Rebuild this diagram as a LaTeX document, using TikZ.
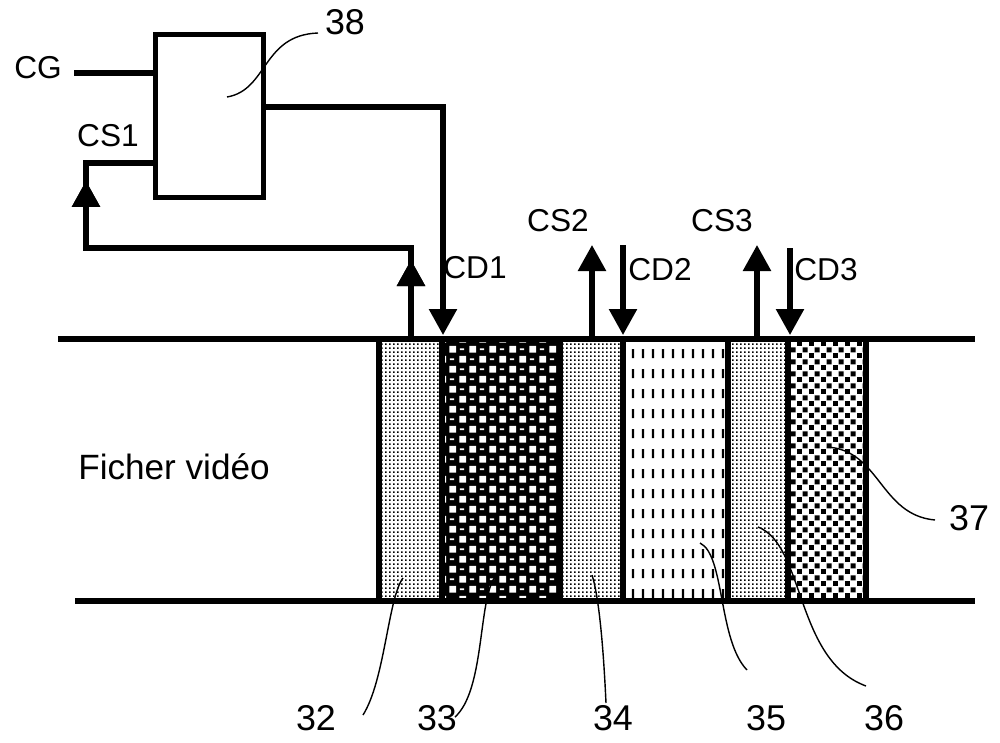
\documentclass[tikz,border=0pt]{standalone}
\usepackage{fontspec}
\setmainfont{Liberation Sans}
\usetikzlibrary{positioning,arrows.meta,calc,patterns,decorations.markings}

% fills of the stripes (1px of the drawing = 0.71pt)
\pgfdeclarepatternformonly{finedots}{\pgfpointorigin}{\pgfqpoint{2.8pt}{2.8pt}}{\pgfqpoint{2.8pt}{2.8pt}}{%
  \pgfpathrectangle{\pgfpointorigin}{\pgfqpoint{1.25pt}{1.25pt}}\pgfusepath{fill}}
\pgfdeclarepatternformonly{holes}{\pgfpointorigin}{\pgfqpoint{14.2pt}{14.2pt}}{\pgfqpoint{14.2pt}{14.2pt}}{%
  \pgfpathrectangle{\pgfqpoint{0.2pt}{0.2pt}}{\pgfqpoint{4.9pt}{4.9pt}}
  \pgfpathrectangle{\pgfqpoint{7.3pt}{7.3pt}}{\pgfqpoint{4.9pt}{4.9pt}}
  \pgfpathrectangle{\pgfqpoint{7.7pt}{2.0pt}}{\pgfqpoint{3.0pt}{1.3pt}}
  \pgfpathrectangle{\pgfqpoint{0.6pt}{9.1pt}}{\pgfqpoint{3.0pt}{1.3pt}}
  \pgfusepath{fill}}
\pgfdeclarepatternformonly{vdashes}{\pgfpointorigin}{\pgfqpoint{7.1pt}{14.2pt}}{\pgfqpoint{7.1pt}{14.2pt}}{%
  \pgfpathrectangle{\pgfqpoint{2.8pt}{3.5pt}}{\pgfqpoint{1.5pt}{6.4pt}}\pgfusepath{fill}}
\pgfdeclarepatternformonly{blocks}{\pgfpointorigin}{\pgfqpoint{8.6pt}{8.6pt}}{\pgfqpoint{8.6pt}{8.6pt}}{%
  \pgfpathrectangle{\pgfqpoint{0pt}{0pt}}{\pgfqpoint{3.8pt}{3.8pt}}
  \pgfpathrectangle{\pgfqpoint{4.3pt}{4.3pt}}{\pgfqpoint{3.8pt}{3.8pt}}
  \pgfusepath{fill}}

\tikzset{
  wire/.style={line width=3.6pt},
  leader/.style={line width=1pt},
  tip/.style={-{Triangle[length=6.5mm,width=6.8mm]}},
  lbl/.style={inner sep=0pt,font=\fontsize{22.5}{26}\selectfont},
  num/.style={inner sep=0pt,font=\fontsize{25.5}{30}\selectfont},
  midtip/.style={postaction={decorate},decoration={markings,
    mark=at position #1 with {\arrow{Triangle[length=6.5mm,width=6.8mm]}}}}
}

\begin{document}
\begin{tikzpicture}[x=0.25mm,y=-0.25mm]
  \useasboundingbox (0,0) rectangle (1000,742);

  % stripes of the video file
  \fill[pattern=finedots] (379,339) rectangle (442,601);
  \fill[black] (442,339) rectangle (560,601);
  \fill[pattern=holes,pattern color=white] (442,339) rectangle (560,601);
  \fill[pattern=finedots] (560,339) rectangle (623,601);
  \fill[pattern=vdashes] (623,339) rectangle (728,601);
  \fill[pattern=finedots] (728,339) rectangle (788,601);
  \fill[pattern=blocks] (788,339) rectangle (866,601);
  \foreach \xs in {379,442,560,623,728,788,866}
    \draw[wire] (\xs,339) -- (\xs,601);
  \draw[wire] (58,339) -- (975,339);
  \draw[wire] (75,601) -- (975,601);
  \node[lbl,font=\fontsize{25}{30}\selectfont] (film) at (174,467) {Ficher vidéo};

  % block 38 and its signals
  \node[wire,draw,minimum width=27mm,minimum height=40.75mm] (proc) at (209.5,116) {};
  \node[lbl] (cg) at (38,68) {CG};
  \node[lbl] (cs1) at (108,136) {CS1};
  \draw[wire] ([xshift=3mm]cg.east |- 0,73) -- (proc.west |- 0,73);
  \coordinate (s1) at (411,339);
  \draw[wire,midtip=19.75mm,midtip=120.75mm] (s1) -- (411,248) -- (86,248) -- (86,163) -- (proc.west |- 0,163);
  \coordinate (d1) at (443,335);
  \draw[wire,tip] (proc.east |- 0,107) -| (d1);
  \node[lbl] (cd1) at (475,268) {CD1};

  % other signals
  \coordinate (s2) at (592,339); \coordinate (s2e) at (592,245);
  \coordinate (d2) at (623,335); \coordinate (d2s) at (623,245);
  \coordinate (s3) at (757,339); \coordinate (s3e) at (757,245);
  \coordinate (d3) at (790,335); \coordinate (d3s) at (790,248);
  \draw[wire,tip] (s2) -- (s2e);
  \draw[wire,tip] (d2s) -- (d2);
  \draw[wire,tip] (s3) -- (s3e);
  \draw[wire,tip] (d3s) -- (d3);
  \node[lbl] (cs2) at (558,221) {CS2};
  \node[lbl] (cd2) at (660,270) {CD2};
  \node[lbl] (cs3) at (722,221) {CS3};
  \node[lbl] (cd3) at (826,270) {CD3};

  % reference numbers
  \node[num] (n38) at (345,22) {38};
  \node[num] (n32) at (316,718) {32};
  \node[num] (n33) at (437,718) {33};
  \node[num] (n34) at (613,718) {34};
  \node[num] (n35) at (766,718) {35};
  \node[num] (n36) at (884,718) {36};
  \node[num] (n37) at (969,518) {37};
  \draw[leader] (227,97) .. controls (268,90) and (262,35) .. (318,33);
  \draw[leader] (403,578) .. controls (388,598) and (385,680) .. (363,715);
  \draw[leader] (495,577) .. controls (478,600) and (485,690) .. (455,717);
  \draw[leader] (592,575) .. controls (600,600) and (604,660) .. (606,703);
  \draw[leader] (700,543) .. controls (725,555) and (718,640) .. (747,670);
  \draw[leader] (758,527) .. controls (805,545) and (795,660) .. (866,686);
  \draw[leader] (827,447) .. controls (880,450) and (880,515) .. (935,520);
\end{tikzpicture}
\end{document}
